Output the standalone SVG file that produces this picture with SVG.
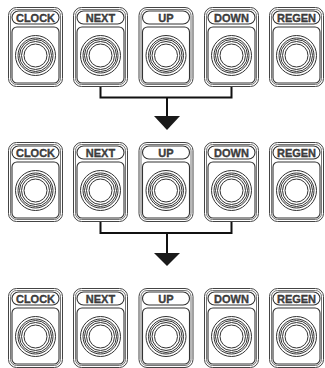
<svg xmlns="http://www.w3.org/2000/svg" xmlns:xlink="http://www.w3.org/1999/xlink" width="325" height="368" viewBox="0 0 325 368">
<style>
.o{fill:#fff;stroke:#444;stroke-width:1}
.i{fill:none;stroke:#666;stroke-width:0.9}
.p{fill:#fff;stroke:#333;stroke-width:1.1}
.c{fill:none;stroke:#333;stroke-width:1}
.t{font-family:"Liberation Sans",Arial,sans-serif;font-weight:bold;font-size:11px;fill:#444;stroke:#222;stroke-width:0.3;text-anchor:middle}
.w{fill:none;stroke:#111;stroke-width:2}
.a{fill:#1a1a1a}
</style>
<defs>
<g id="btn">
<rect class="o" x="0.5" y="0.5" width="54" height="79" rx="8"/>
<rect class="i" x="2.5" y="2.5" width="50" height="75" rx="6"/>
<rect class="p" x="4" y="4" width="47" height="13" rx="6.5"/>
<rect class="p" x="4" y="20" width="47" height="56" rx="5"/>
<circle class="c" cx="27.5" cy="48.5" r="20"/>
<circle class="c" cx="27.5" cy="48.5" r="17.5"/>
<circle class="c" cx="27.5" cy="48.5" r="16"/>
<circle class="c" cx="27.5" cy="48.5" r="14"/>
<circle class="c" cx="27.5" cy="48.5" r="11.5"/>
</g>
</defs>
<g id="row1">
<g id="r1-clock" transform="translate(8,7)"><use href="#btn"/><text class="t" x="27.5" y="15">CLOCK</text></g>
<g id="r1-next" transform="translate(73,7)"><use href="#btn"/><text class="t" x="27.5" y="15">NEXT</text></g>
<g id="r1-up" transform="translate(138.5,7)"><use href="#btn"/><text class="t" x="27.5" y="15">UP</text></g>
<g id="r1-down" transform="translate(204,7)"><use href="#btn"/><text class="t" x="27.5" y="15">DOWN</text></g>
<g id="r1-regen" transform="translate(269,7)"><use href="#btn"/><text class="t" x="27.5" y="15">REGEN</text></g>
</g>
<g id="row2">
<g id="r2-clock" transform="translate(8,142)"><use href="#btn"/><text class="t" x="27.5" y="15">CLOCK</text></g>
<g id="r2-next" transform="translate(73,142)"><use href="#btn"/><text class="t" x="27.5" y="15">NEXT</text></g>
<g id="r2-up" transform="translate(138.5,142)"><use href="#btn"/><text class="t" x="27.5" y="15">UP</text></g>
<g id="r2-down" transform="translate(204,142)"><use href="#btn"/><text class="t" x="27.5" y="15">DOWN</text></g>
<g id="r2-regen" transform="translate(269,142)"><use href="#btn"/><text class="t" x="27.5" y="15">REGEN</text></g>
</g>
<g id="row3">
<g id="r3-clock" transform="translate(8,288)"><use href="#btn"/><text class="t" x="27.5" y="15">CLOCK</text></g>
<g id="r3-next" transform="translate(73,288)"><use href="#btn"/><text class="t" x="27.5" y="15">NEXT</text></g>
<g id="r3-up" transform="translate(138.5,288)"><use href="#btn"/><text class="t" x="27.5" y="15">UP</text></g>
<g id="r3-down" transform="translate(204,288)"><use href="#btn"/><text class="t" x="27.5" y="15">DOWN</text></g>
<g id="r3-regen" transform="translate(269,288)"><use href="#btn"/><text class="t" x="27.5" y="15">REGEN</text></g>
</g>
<g id="connectors">
<path class="w" d="M100.5,87 V97.5 H231.5 V87 M167,97.5 V117"/>
<polygon class="a" points="154,116 180,116 167,130"/>
<path class="w" d="M100.5,222 V233 H231.5 V222 M167,233 V254"/>
<polygon class="a" points="154,253 180,253 167,266"/>
</g>
</svg>
